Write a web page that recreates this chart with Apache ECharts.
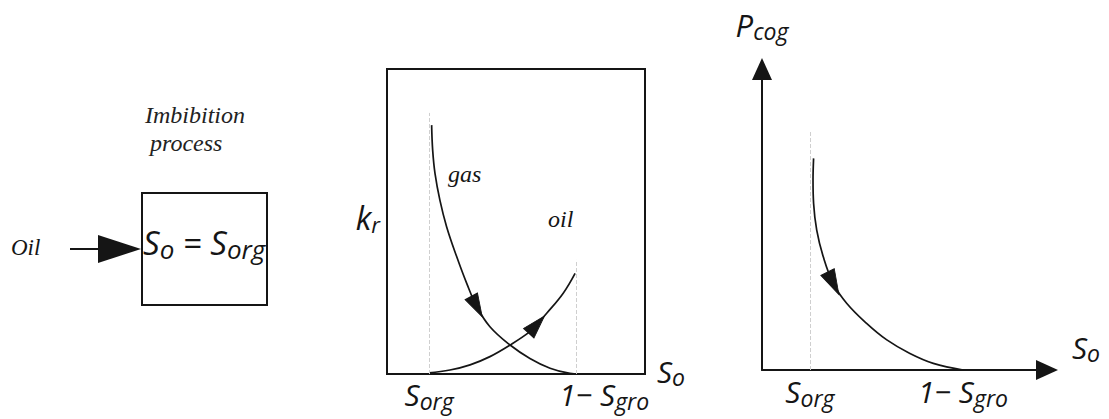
<!DOCTYPE html>
<html>
<head>
<meta charset="utf-8">
<script src="https://cdn.jsdelivr.net/npm/echarts@6/dist/echarts.min.js"></script>
<style>
  html, body { margin: 0; padding: 0; background: #ffffff; }
  #main { width: 1109px; height: 419px; }
</style>
</head>
<body>
<div id="main"></div>
<script>
// ---- Relative permeability panel (k_r against S_o, saturation normalised over the frame) ----
const krSorg = 0.163;
const krOneMinusSgro = 0.733;
const krTickValues = [krSorg, krOneMinusSgro];
const krTickLabels = ['S_org', '1\u2212 S_gro'];
const gasKr = [
  [0.173, 0.816], [0.177, 0.734], [0.186, 0.658], [0.205, 0.570], [0.231, 0.483],
  [0.270, 0.385], [0.309, 0.297], [0.348, 0.221], [0.399, 0.155], [0.477, 0.095],
  [0.554, 0.051], [0.632, 0.019], [0.709, 0.002], [0.745, 0.000]
];
const oilKr = [
  [0.163, 0.004], [0.244, 0.013], [0.322, 0.030], [0.399, 0.057], [0.477, 0.095],
  [0.554, 0.139], [0.580, 0.162], [0.619, 0.199], [0.683, 0.265], [0.729, 0.330]
];
const gasArrowIndex = 7;
const oilArrowIndex = 6;
// heights reached by the guide lines at S_org and 1 - S_gro
const krGuideTops = [0.856, 0.374];

// ---- Capillary pressure panel (P_cog against S_o) ----
const pcSorg = 0.168;
const pcOneMinusSgro = 0.705;
const pcTickValues = [pcSorg, pcOneMinusSgro];
const pcTickLabels = ['S_org', '1\u2212 S_gro'];
const pcCog = [
  [0.181, 0.703], [0.179, 0.631], [0.181, 0.554], [0.192, 0.465], [0.215, 0.376],
  [0.250, 0.288], [0.297, 0.222], [0.367, 0.155], [0.438, 0.100], [0.519, 0.055],
  [0.601, 0.022], [0.706, 0.000]
];
const pcArrowIndex = 5;
const pcGuideTop = 0.797;

// ---- Styling ----
const INK = '#151515';
const SANS = 'Open Sans';
const SERIF = 'Liberation Serif';

// "S_org" -> rich text with a lowered subscript
function richLabel(str, padLeft) {
  const parts = String(str).split('_');
  let out = padLeft ? '{pad| }' : '';
  out += '{m|' + parts[0] + '}';
  if (parts[1]) out += '{s|' + parts[1] + '}';
  return out;
}
function richStyles(big, small, drop, padWidth) {
  return {
    m: { fontFamily: SANS, fontStyle: 'italic', fontSize: big, color: INK, lineHeight: big + 4 },
    s: { fontFamily: SANS, fontStyle: 'italic', fontSize: small, color: INK, padding: [drop, 0, 0, 0] },
    pad: { width: padWidth || 0 }
  };
}
// picks the label that belongs to a tick value
function tickLabelFor(values, labels, v) {
  let best = 0;
  values.forEach((t, i) => { if (Math.abs(t - v) < Math.abs(values[best] - v)) best = i; });
  return labels[best];
}

const chart = echarts.init(document.getElementById('main'), null, { renderer: 'svg' });

function guide(x, top) {
  return [{ coord: [x, 0] }, { coord: [x, top] }];
}
const guideStyle = { type: 'dashed', color: '#cfcfcf', width: 1 };
const serif = (px) => 'italic ' + px + 'px "' + SERIF + '"';
const arrowStyle = { color: INK, opacity: 1, borderColor: INK, borderWidth: 1 };

const option = {
  animation: false,
  backgroundColor: '#ffffff',
  grid: [
    { left: 387, top: 69, width: 258, height: 305, show: true, borderColor: INK, borderWidth: 2,
      backgroundColor: 'transparent' },
    { left: 762, top: 69, width: 285, height: 301, show: false }
  ],
  xAxis: [
    {
      gridIndex: 0, type: 'value', min: 0, max: 1,
      axisLine: { show: false }, axisTick: { show: false }, splitLine: { show: false },
      axisLabel: {
        show: true, margin: 3,
        customValues: krTickValues,
        formatter: (v) => {
          const lab = tickLabelFor(krTickValues, krTickLabels, v);
          return richLabel(lab, lab === krTickLabels[1]);
        },
        rich: richStyles(30, 23, 12, 56)
      },
      name: richLabel('S_o'), nameLocation: 'end', nameGap: 12,
      nameTextStyle: { rich: richStyles(30, 23, 12), padding: [0, 0, 6, 0] }
    },
    {
      gridIndex: 1, type: 'value', min: 0, max: 1,
      axisLine: { show: true, symbol: ['none', 'triangle'], symbolSize: [20, 22],
        lineStyle: { color: INK, width: 2 } },
      axisTick: { show: false }, splitLine: { show: false },
      axisLabel: {
        show: true, margin: 4,
        customValues: pcTickValues,
        formatter: (v) => richLabel(tickLabelFor(pcTickValues, pcTickLabels, v)),
        rich: richStyles(30, 23, 12)
      },
      name: richLabel('S_o'), nameLocation: 'end', nameGap: 25,
      nameTextStyle: { rich: richStyles(30, 23, 12), padding: [0, 0, 46, 0] }
    }
  ],
  yAxis: [
    {
      gridIndex: 0, type: 'value', min: 0, max: 1,
      axisLine: { show: false }, axisTick: { show: false }, splitLine: { show: false },
      axisLabel: { show: false },
      name: richLabel('k_r'), nameLocation: 'middle', nameRotate: 0, nameGap: 7,
      nameTextStyle: { align: 'right', rich: richStyles(32, 22, 12), padding: [0, 0, 8, 0] }
    },
    {
      gridIndex: 1, type: 'value', min: 0, max: 1,
      axisLine: { show: true, symbol: ['none', 'triangle'], symbolSize: [20, 22],
        lineStyle: { color: INK, width: 2 } },
      axisTick: { show: false }, splitLine: { show: false },
      axisLabel: { show: false },
      name: richLabel('P_cog'), nameLocation: 'end', nameGap: 27,
      nameTextStyle: { rich: richStyles(31, 23, 12) }
    }
  ],
  series: [
    {
      name: 'gas', type: 'line', xAxisIndex: 0, yAxisIndex: 0, data: gasKr,
      smooth: 0.4, symbol: 'none', clip: false,
      lineStyle: { color: INK, width: 1.7 },
      markLine: {
        silent: true, symbol: 'none', label: { show: false }, lineStyle: guideStyle,
        data: [guide(krSorg, krGuideTops[0]), guide(krOneMinusSgro, krGuideTops[1])]
      }
    },
    {
      name: 'oil', type: 'line', xAxisIndex: 0, yAxisIndex: 0, data: oilKr,
      smooth: 0.4, symbol: 'none', clip: false,
      lineStyle: { color: INK, width: 1.7 }
    },
    {
      name: 'Pcog', type: 'line', xAxisIndex: 1, yAxisIndex: 1, data: pcCog,
      smooth: 0.4, symbol: 'none', clip: false,
      lineStyle: { color: INK, width: 1.7 },
      markLine: {
        silent: true, symbol: 'none', label: { show: false }, lineStyle: guideStyle,
        data: [guide(pcSorg, pcGuideTop)]
      }
    },
    { name: 'krArrows', type: 'scatter', xAxisIndex: 0, yAxisIndex: 0, data: [],
      symbol: 'triangle', symbolSize: [14, 23], itemStyle: arrowStyle, z: 5 },
    { name: 'pcArrows', type: 'scatter', xAxisIndex: 1, yAxisIndex: 1, data: [],
      symbol: 'triangle', symbolSize: [15, 25], itemStyle: arrowStyle, z: 5 }
  ],
  graphic: [
    // process sketch on the left
    { type: 'text', left: 145, top: 103,
      style: { text: 'Imbibition', font: serif(24), fill: '#222' } },
    { type: 'text', left: 150, top: 131,
      style: { text: 'process', font: serif(24), fill: '#222' } },
    { type: 'text', left: 11, top: 236,
      style: { text: 'Oil', font: serif(23), fill: INK } },
    { type: 'line', shape: { x1: 70, y1: 249, x2: 100, y2: 249 },
      style: { stroke: INK, lineWidth: 2 } },
    { type: 'polygon', shape: { points: [[98, 235], [141, 249], [98, 263]] },
      style: { fill: INK } },
    { type: 'rect', shape: { x: 142, y: 193, width: 125, height: 112 },
      style: { fill: 'none', stroke: INK, lineWidth: 2 } },
    { type: 'text', left: 143, top: 226,
      style: {
        text: '{m|S}{s|o}{m| = S}{s|org}',
        rich: {
          m: { fontFamily: SANS, fontStyle: 'italic', fontSize: 33, fill: INK, lineHeight: 38 },
          s: { fontFamily: SANS, fontStyle: 'italic', fontSize: 26, fill: INK, padding: [12, 0, 0, 0] }
        }
      } },
    // curve names in the k_r frame
    { type: 'text', left: 448, top: 162,
      style: { text: 'gas', font: serif(24), fill: INK } },
    { type: 'text', left: 548, top: 207,
      style: { text: 'oil', font: serif(24), fill: INK } }
  ]
};

chart.setOption(option);

// Arrowheads sit on a curve point and point along the curve's direction there
function arrowAt(curve, idx, gridIndex) {
  const a = chart.convertToPixel({ gridIndex: gridIndex }, curve[idx - 1]);
  const b = chart.convertToPixel({ gridIndex: gridIndex }, curve[idx + 1]);
  const rot = Math.atan2(-(b[0] - a[0]), -(b[1] - a[1])) * 180 / Math.PI;
  return { value: curve[idx], symbolRotate: rot };
}

chart.setOption({
  series: [
    {}, {}, {},
    { data: [arrowAt(gasKr, gasArrowIndex, 0), arrowAt(oilKr, oilArrowIndex, 0)] },
    { data: [arrowAt(pcCog, pcArrowIndex, 1)] }
  ]
});
</script>
</body>
</html>
